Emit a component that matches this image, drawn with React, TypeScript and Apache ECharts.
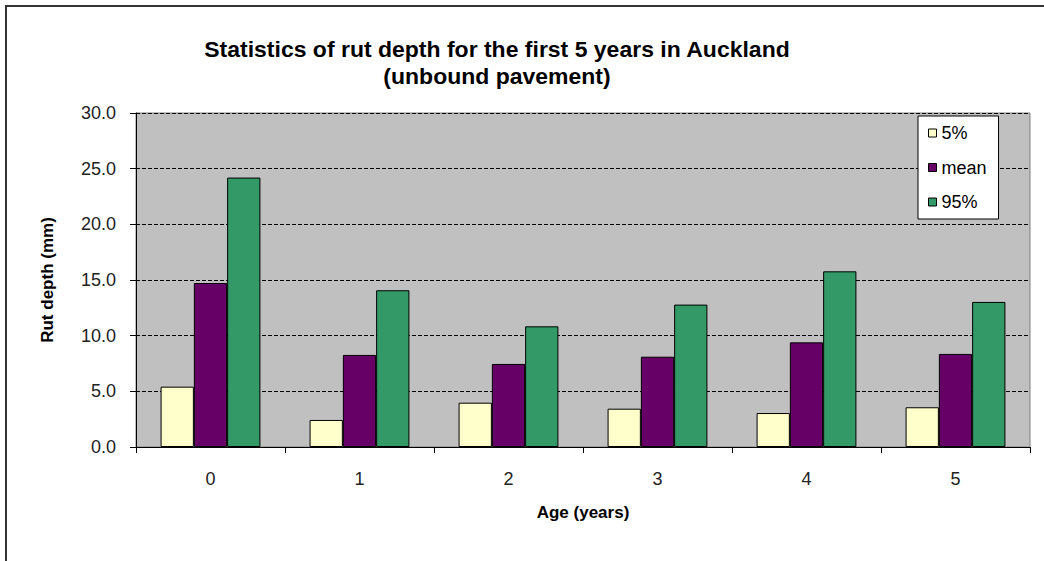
import React, { useEffect, useRef } from "react";
import * as echarts from "echarts";

const categories = ["0", "1", "2", "3", "4", "5"];
const seriesNames = ["5%", "mean", "95%"];
const p5 = [5.42, 2.43, 3.98, 3.44, 3.05, 3.57];
const mean = [14.73, 8.27, 7.46, 8.11, 9.4, 8.36];
const p95 = [24.2, 14.08, 10.84, 12.79, 15.78, 13.03];
const colors = ["#FFFFCC", "#660066", "#339966"];
const titleLines = ["Statistics of rut depth for the first 5 years in Auckland", "(unbound pavement)"];

const FONT = "'Liberation Sans', Arial, sans-serif";

export default function App() {
  const ref = useRef<HTMLDivElement>(null);
  useEffect(() => {
    if (!ref.current) return;
    const chart = echarts.init(ref.current, undefined, { renderer: "svg" });
    const values = [p5, mean, p95];
    chart.setOption({
      animation: false,
      backgroundColor: "#ffffff",
      textStyle: { fontFamily: FONT },
      graphic: [
        {
          type: "rect",
          shape: { x: 6, y: 6, width: 1040, height: 556 },
          style: { fill: "none", stroke: "#333", lineWidth: 2 },
          silent: true,
        },
        {
          type: "text",
          x: 497,
          y: 36,
          scaleX: 1.045,
          style: {
            text: titleLines.join("\n"),
            align: "center",
            verticalAlign: "top",
            fontFamily: FONT,
            fontSize: 22,
            fontWeight: "bold",
            lineHeight: 27,
            fill: "#000",
          },
        },
      ],
      legend: {
        orient: "vertical",
        left: 918,
        top: 116,
        padding: [8, 12, 8, 10],
        itemWidth: 8,
        itemHeight: 8,
        itemGap: 16.5,
        itemTextGap: 2,
        backgroundColor: "#ffffff",
        borderColor: "#000",
        borderWidth: 1,
        icon: "rect",
        textStyle: { fontSize: 18, color: "#000", fontFamily: FONT },
        itemStyle: { borderColor: "#000", borderWidth: 1 },
        data: seriesNames,
      },
      grid: {
        left: 136,
        right: 14,
        top: 113,
        bottom: 114,
        show: true,
        backgroundColor: "#C0C0C0",
        borderColor: "#808080",
        borderWidth: 1,
      },
      xAxis: {
        type: "category",
        data: categories,
        name: "Age (years)",
        nameLocation: "middle",
        nameGap: 57,
        nameTextStyle: { fontSize: 17, fontWeight: "bold", color: "#000", fontFamily: FONT },
        axisLine: { show: true, lineStyle: { color: "#000", width: 1 } },
        axisTick: { show: true, alignWithLabel: false, length: 6, lineStyle: { color: "#000" } },
        axisLabel: { fontSize: 18, color: "#222", margin: 23, fontFamily: FONT },
        splitLine: { show: false },
      },
      yAxis: {
        type: "value",
        min: 0,
        max: 30,
        interval: 5,
        name: "Rut depth (mm)",
        nameLocation: "middle",
        nameGap: 80,
        nameTextStyle: { fontSize: 17, fontWeight: "bold", color: "#000", fontFamily: FONT },
        axisLine: { show: true, lineStyle: { color: "#000", width: 1 } },
        axisTick: { show: true, length: 6, lineStyle: { color: "#000" } },
        axisLabel: {
          fontSize: 18,
          color: "#222",
          margin: 20,
          fontFamily: FONT,
          formatter: (v: number) => v.toFixed(1),
        },
        splitLine: { show: true, lineStyle: { color: "#000", type: [4, 2], width: 1 } },
      },
      series: seriesNames.map((name, i) => ({
        name,
        type: "bar",
        data: values[i],
        barGap: "0%",
        barCategoryGap: "33%",
        itemStyle: { color: colors[i], borderColor: "#000", borderWidth: 1 },
      })),
    });
    return () => chart.dispose();
  }, []);
  return (
    <div
      ref={ref}
      style={{ position: "absolute", left: 0, top: 0, width: 1044, height: 561 }}
    />
  );
}
